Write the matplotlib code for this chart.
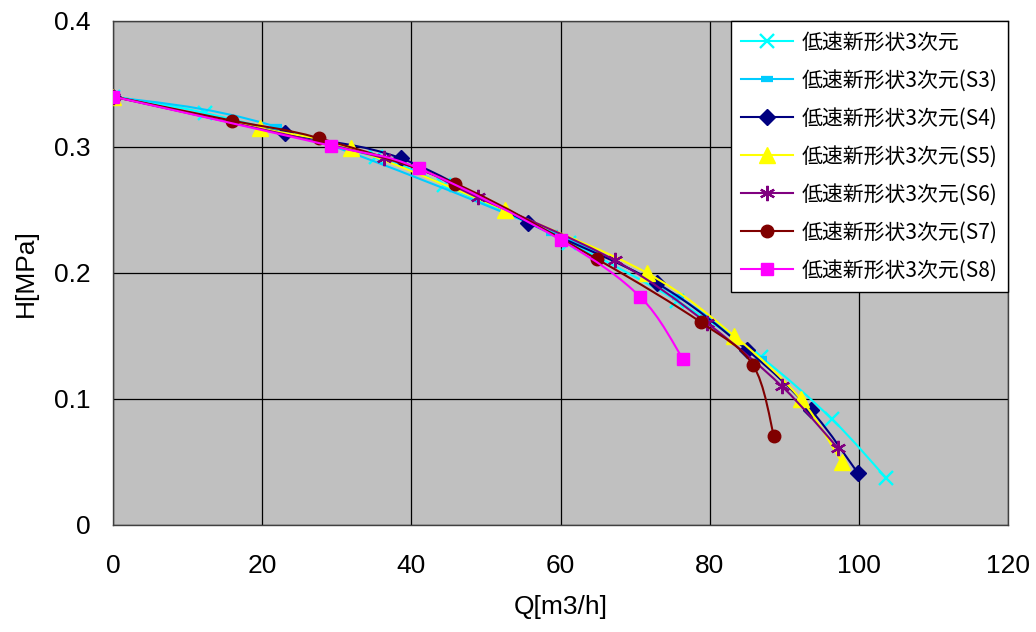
#Head-flow curves of the low-speed impeller variants, redrawn from the Excel chart
import numpy as np
import matplotlib
matplotlib.use("Agg")
import matplotlib.pyplot as plt
from matplotlib.path import Path
from matplotlib.patches import PathPatch
from matplotlib.lines import Line2D
from matplotlib.font_manager import FontProperties

#data, Q[m3/h] and H[MPa]
Q_base = [0, 12.3, 35.3, 44.4, 61.2, 75.6, 86.9, 96.4, 103.7]
H_base = [0.340, 0.327, 0.292, 0.270, 0.224, 0.178, 0.133, 0.084, 0.037]

Q_s3 = [0, 21.9, 58.9, 75.8, 86.9]
H_s3 = [0.340, 0.316, 0.232, 0.181, 0.132]

Q_s4 = [0, 23.0, 38.6, 55.7, 72.9, 85.0, 93.6, 99.9]
H_s4 = [0.340, 0.311, 0.291, 0.240, 0.192, 0.139, 0.091, 0.041]

Q_s5 = [0, 19.7, 31.9, 52.5, 71.6, 83.3, 92.2, 97.7]
H_s5 = [0.340, 0.315, 0.299, 0.250, 0.200, 0.150, 0.100, 0.050]

Q_s6 = [0, 36.4, 48.9, 67.3, 79.7, 89.7, 97.2]
H_s6 = [0.340, 0.291, 0.260, 0.210, 0.160, 0.110, 0.061]

Q_s7 = [0, 15.9, 27.6, 45.9, 64.9, 78.8, 85.8, 88.6]
H_s7 = [0.340, 0.321, 0.307, 0.271, 0.211, 0.161, 0.127, 0.071]

Q_s8 = [0, 29.2, 41.0, 60.1, 70.7, 76.4]
H_s8 = [0.340, 0.301, 0.283, 0.226, 0.181, 0.132]

labels = ["低速新形状3次元", "低速新形状3次元(S3)", "低速新形状3次元(S4)", "低速新形状3次元(S5)",
          "低速新形状3次元(S6)", "低速新形状3次元(S7)", "低速新形状3次元(S8)"]
x_ticks = [0, 20, 40, 60, 80, 100, 120]
y_ticks = [0, 0.1, 0.2, 0.3, 0.4]
y_tick_labels = ["0", "0.1", "0.2", "0.3", "0.4"]

series = [(Q_base, H_base), (Q_s3, H_s3), (Q_s4, H_s4), (Q_s5, H_s5),
          (Q_s6, H_s6), (Q_s7, H_s7), (Q_s8, H_s8)]

#marker style per series: color, marker, size, edge width
styles = [
    dict(color="#00FFFF", marker="x", ms=10, mew=1.7),
    dict(color="#00CCFF", marker="_", ms=9, mew=4.5),
    dict(color="#000080", marker="D", ms=8.5, mew=1),
    dict(color="#FFFF00", marker="^", ms=11, mew=1),
    dict(color="#800080", marker=(6, 2, 0), ms=11, mew=1.6),
    dict(color="#800000", marker="o", ms=9, mew=1),
    dict(color="#FF00FF", marker="s", ms=9, mew=1),
]


#Excel style smoothed line: cardinal spline as cubic bezier segments
def smoothPath(x, y):
    P = np.column_stack([x, y]).astype(float)
    n = len(P)
    verts = [P[0]]
    codes = [Path.MOVETO]
    for i in range(n - 1):
        p0 = P[i - 1] if i > 0 else P[i]
        p3 = P[i + 2] if i + 2 < n else P[i + 1]
        c1 = P[i] + (P[i + 1] - p0) / 6
        c2 = P[i + 1] - (p3 - P[i]) / 6
        verts += [c1, c2, P[i + 1]]
        codes += [Path.CURVE4] * 3
    return Path(verts, codes)


plt.rcParams['font.family'] = ['Liberation Sans Narrow', 'Liberation Sans', 'DejaVu Sans']

fig = plt.figure(figsize=(10.36, 6.32), dpi=100)
ax = fig.add_axes([113 / 1036, 1 - 525 / 632, 895 / 1036, 504 / 632])
ax.set_facecolor("#C0C0C0")

handles = []
for i, ((q, h), st) in enumerate(zip(series, styles)):
    patch = PathPatch(smoothPath(q, h), fill=False, edgecolor=st["color"], lw=1.5, zorder=3 + 2 * i)
    ax.add_patch(patch)
    ax.plot(q, h, ls="none", marker=st["marker"], ms=st["ms"], mew=st["mew"],
            color=st["color"], mfc=st["color"], mec=st["color"], zorder=4 + 2 * i)
    handles.append(Line2D([], [], color=st["color"], lw=1.5, marker=st["marker"], ms=st["ms"],
                          mew=st["mew"], mfc=st["color"], mec=st["color"]))

ax.set_xlim(0, 120)
ax.set_ylim(0, 0.4)
ax.set_xticks(x_ticks)
ax.set_yticks(y_ticks)
ax.set_yticklabels(y_tick_labels)
ax.tick_params(axis="both", length=0, labelsize=19)
ax.tick_params(axis="x", pad=21)
ax.tick_params(axis="y", pad=16)

ax.grid(True, color="black", lw=0.9)
ax.set_axisbelow(True)
for sp in ax.spines.values():
    sp.set_color("#404040")
    sp.set_linewidth(1)

ax.set_xlabel("Q[m3/h]", fontsize=19, labelpad=12)
ax.set_ylabel("H[MPa]", fontsize=19, labelpad=12)

leg = ax.legend(handles, labels, loc="upper right", bbox_to_anchor=(1.0, 1.0), borderaxespad=0,
                prop=FontProperties(family=['Noto Sans CJK JP', 'DejaVu Sans'], size=15),
                fancybox=False, framealpha=1, edgecolor="black", handlelength=2.5,
                labelspacing=0.77, handletextpad=0.4, borderpad=0.5)
leg.get_frame().set_linewidth(1)
leg.set_zorder(30)

fig.savefig("out.png", dpi=100)
